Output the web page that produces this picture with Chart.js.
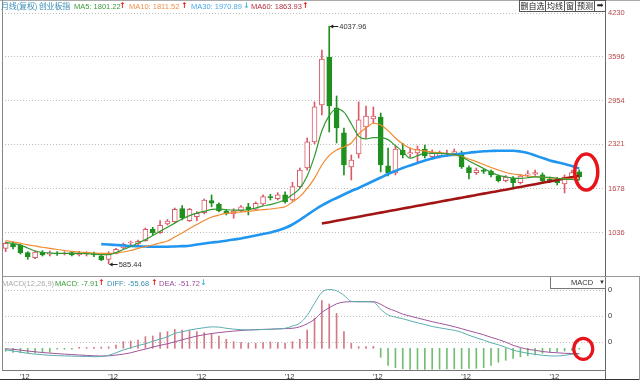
<!DOCTYPE html>
<html><head><meta charset="utf-8">
<script src="https://cdn.jsdelivr.net/npm/chart.js@4.4.0/dist/chart.umd.min.js"></script>
<style>
html,body{margin:0;padding:0;background:#fff;}
#wrap{position:relative;width:640px;height:380px;overflow:hidden;background:#fff;font-family:"Liberation Sans",Arial,sans-serif;}
canvas{position:absolute;left:0;}
#c1{top:0;}
#c2{top:277px;}
.t{position:absolute;font-size:7.5px;line-height:9px;white-space:nowrap;}
.cn{font-family:"Noto Sans CJK SC",sans-serif;}
.ar{font-family:"DejaVu Sans",sans-serif;font-weight:bold;font-size:8px;}
.btn{position:absolute;top:0;height:12px;border:1px solid #555;background:#fff;font-size:8px;line-height:10px;text-align:center;font-family:"Noto Sans CJK SC",sans-serif;color:#222;box-sizing:border-box;}
</style></head>
<body>
<div id="wrap">
<canvas id="c1" width="640" height="277"></canvas>
<canvas id="c2" width="640" height="103"></canvas>

<div class="t cn" style="left:1px;top:1px;color:#3b8db5;font-size:8px;line-height:10px;letter-spacing:-0.2px">月线(复权) 创业板指</div>
<div class="t" style="left:74px;top:2px;color:#3a9a3a">MA5: 1801.22</div>
<div class="t ar" style="left:119px;top:1px;color:#e02020">↑</div>
<div class="t" style="left:129px;top:2px;color:#f0904a">MA10: 1811.52</div>
<div class="t ar" style="left:181px;top:1px;color:#e02020">↑</div>
<div class="t" style="left:191px;top:2px;color:#4aa8e8">MA30: 1970.89</div>
<div class="t ar" style="left:243px;top:1px;color:#4ab8d8">↓</div>
<div class="t" style="left:251px;top:2px;color:#b03040">MA60: 1863.93</div>
<div class="t ar" style="left:302px;top:1px;color:#e02020">↑</div>

<div class="btn" style="left:519px;width:27px">删自选</div>
<div class="btn" style="left:545px;width:20px">均线</div>
<div class="btn" style="left:564px;width:12px">窗</div>
<div class="btn" style="left:575px;width:20px">预测</div>
<div class="btn" style="left:594px;width:12px;font-family:'DejaVu Sans'">➡</div>

<div class="t" style="left:2px;top:279px;color:#aaa">MACD(12,26,9)</div>
<div class="t" style="left:55px;top:279px;color:#3a9a3a">MACD: -7.91</div>
<div class="t ar" style="left:98px;top:278px;color:#e02020">↑</div>
<div class="t" style="left:107px;top:279px;color:#3a8fb0">DIFF: -55.68</div>
<div class="t ar" style="left:151px;top:278px;color:#e02020">↑</div>
<div class="t" style="left:159px;top:279px;color:#9c4a9c">DEA: -51.72</div>
<div class="t ar" style="left:200px;top:278px;color:#4ab8d8">↓</div>
<div style="position:absolute;left:550px;top:277px;width:56px;height:12px;border:1px solid #777;border-top:none;background:#fff;box-sizing:border-box;font-size:7.5px;line-height:11px;color:#333;">
  <span style="position:absolute;left:20px;top:0">MACD</span><span style="position:absolute;left:48px;top:0;font-size:6px">▼</span>
</div>
</div>

<script>
// ---------- data ----------
const open  = [809,872,857,745,672,751,722,741,726,745,716,726,730,697,649,736,813,886,872,920,1085,1036,1163,1196,1385,1211,1269,1327,1502,1449,1352,1308,1356,1414,1376,1454,1560,1531,1585,1512,1705,1977,2356,2894,3592,2851,2487,1992,2181,2574,2690,2719,2007,1905,2239,2181,2196,2254,2142,2152,2181,2181,2196,1982,1909,1948,1934,1861,1793,1832,1764,1876,1886,1876,1813,1793,1745,1846,1923];
const high  = [905,908,872,760,770,774,770,763,760,760,765,760,755,712,760,809,886,915,930,1104,1115,1211,1228,1395,1429,1391,1342,1526,1585,1472,1376,1385,1432,1464,1483,1585,1595,1618,1632,1769,1977,2414,2938,3694,4037.96,3025,2559,2167,2938,2879,2865,2777,2268,2298,2337,2268,2298,2312,2239,2225,2239,2254,2225,2007,1977,1970,1948,1876,1868,1854,1883,1938,1948,1905,1846,1842,1876,1948,1948];
const low   = [760,799,726,649,658,697,697,704,712,697,697,697,687,629,585.44,726,799,857,857,911,1003,1024,1148,1184,1221,1199,1206,1308,1414,1337,1294,1246,1337,1294,1359,1435,1512,1512,1464,1497,1686,1948,2327,2749,2501,2341,1876,1803,2123,2414,2632,1919,1861,1876,2123,2137,2069,2123,2116,2123,2145,2152,1970,1817,1883,1897,1846,1774,1774,1672,1745,1842,1868,1774,1767,1730,1614,1832,1803];
const close = [882,828,745,687,755,712,741,726,741,712,736,736,712,639,736,794,872,890,911,1085,1036,1144,1206,1376,1254,1376,1318,1512,1464,1356,1318,1352,1414,1366,1464,1560,1545,1585,1487,1705,1948,2356,2865,3563,2880,2559,2021,2094,2676,2734,2734,2021,1905,2254,2167,2200,2254,2152,2200,2196,2188,2215,1992,1909,1948,1929,1876,1793,1846,1764,1861,1890,1909,1793,1793,1764,1846,1909,1846];

const ma5  = [891,879,857,813,770,748,741,736,736,736,736,733,726,716,716,748,792,835,886,935,995,1055,1115,1175,1235,1285,1320,1345,1375,1380,1370,1365,1365,1370,1395,1425,1445,1475,1515,1590,1680,1860,2150,2520,2740,2835,2790,2620,2440,2400,2420,2420,2390,2300,2215,2120,2155,2195,2190,2190,2185,2175,2140,2080,2025,1970,1915,1870,1850,1830,1825,1835,1848,1845,1840,1828,1815,1810,1801.22];
const ma10 = [923,901,882,860,843,824,809,792,777,765,755,748,741,736,736,741,755,777,809,835,857,886,915,974,1032,1097,1155,1214,1264,1294,1318,1330,1337,1345,1359,1371,1381,1395,1414,1483,1560,1680,1830,2020,2160,2240,2283,2341,2472,2559,2628,2603,2520,2414,2327,2264,2239,2225,2210,2200,2188,2167,2145,2108,2069,2028,1985,1948,1912,1890,1876,1861,1851,1842,1832,1827,1821,1817,1811.52];
const ma30 = [null,null,null,null,null,null,null,null,null,null,null,null,null,870,864,857,850,842,838,835,832,832,832,835,840,845,864,879,893,905,920,937,952,974,995,1017,1039,1068,1104,1155,1221,1294,1366,1432,1490,1541,1592,1643,1686,1737,1788,1839,1890,1934,1977,2014,2050,2087,2116,2142,2159,2174,2185,2199,2210,2220,2225,2229,2229,2229,2217,2196,2159,2123,2087,2060,2035,2005,1970.89];
const ma60 = [null,null,null,null,null,null,null,null,null,null,null,null,null,null,null,null,null,null,null,null,null,null,null,null,null,null,null,null,null,null,null,null,null,null,null,null,null,null,null,null,null,null,null,1170,1189,1210,1229,1249,1268,1289,1309,1328,1348,1367,1387,1407,1427,1446,1466,1486,1506,1525,1545,1564,1584,1604,1623,1643,1662,1682,1702,1722,1742,1762,1782,1803,1823,1843,1863.93];

const macdHist = [-30,-40,-45,-48,-45,-42,-40,-8,-10,-8,10,8,10,12,15,33,67,73,83,117,123,157,167,190,183,177,167,157,150,123,90,67,57,50,50,57,63,57,50,67,90,183,300,477,443,350,167,50,17,17,20,-90,-170,-195,-205,-210,-210,-210,-210,-208,-205,-205,-205,-200,-200,-195,-170,-140,-120,-100,-85,-75,-65,-50,-42,-35,-28,-20,-7.91];
const diff = [-15,-27,-38,-50,-58,-64,-70,-73,-76,-78,-80,-82,-84,-83,-70,-45,-17,5,28,45,70,92,115,150,165,183,195,206,214,212,200,192,186,183,185,188,190,194,200,222,252,330,450,560,588,575,530,470,466,466,462,390,335,312,295,275,255,238,218,205,192,180,160,130,105,82,55,35,10,-18,-35,-50,-60,-70,-76,-77,-70,-60,-55.68];
const dea  = [-5,-10,-18,-27,-35,-42,-48,-53,-58,-63,-67,-71,-75,-77,-75,-68,-58,-45,-25,-8,12,30,45,65,85,105,122,136,148,157,165,172,178,183,186,189,191,194,197,200,215,245,290,360,405,445,462,466,466,466,466,440,400,372,342,322,303,285,266,250,234,216,196,175,156,135,110,88,62,30,8,-10,-20,-32,-40,-45,-50,-52,-51.72];

const priceTicks = [1036,1678,2321,2954,3596,4230];
const macdTicks = [63,323,583];
const macdTickText = '0';
const xTickIndex = [2,14,26,38,50,62,74];
const xTickText = "'12";
const emptySlots = 3;

// ---------- helpers ----------
const N = close.length;
const categories = [];
for (let i = 0; i < N + emptySlots; i++) categories.push('m' + i);
const UP = '#dc5a68', DOWN = '#1e901e';
const isUp = close.map((c,i)=> c >= open[i]);
const FONT = {family:'"Liberation Sans", Arial, sans-serif', size:7.5};

function fixY(w){ return a => { a.width = w; a.paddingTop = 0; a.paddingBottom = 0; }; }

function drawTag(ctx, px, py, txt){
  const y0 = Math.round(py) + 0.5;
  ctx.strokeStyle = '#222'; ctx.fillStyle = '#222'; ctx.lineWidth = 1;
  ctx.beginPath(); ctx.moveTo(px + 1, y0); ctx.lineTo(px + 9, y0); ctx.stroke();
  ctx.beginPath(); ctx.moveTo(px + 0.5, y0); ctx.lineTo(px + 4, y0 - 2); ctx.lineTo(px + 4, y0 + 2); ctx.closePath(); ctx.fill();
  ctx.font = '7.5px "Liberation Sans", Arial, sans-serif';
  ctx.textBaseline = 'middle'; ctx.textAlign = 'left';
  ctx.fillStyle = '#333';
  ctx.fillText(txt, px + 10, y0);
}

function line(ctx, x1, y1, x2, y2, c){
  ctx.strokeStyle = c; ctx.lineWidth = 1;
  ctx.beginPath(); ctx.moveTo(x1, y1); ctx.lineTo(x2, y2); ctx.stroke();
}

const mainDeco = {
  id:'mainDeco',
  afterDatasetsDraw(chart){
    const {ctx, scales:{x, y}} = chart;
    ctx.save();
    let hi = 0, lo = 0;
    high.forEach((v,i)=>{ if (v > high[hi]) hi = i; });
    low.forEach((v,i)=>{ if (v < low[lo]) lo = i; });
    drawTag(ctx, x.getPixelForValue(hi), y.getPixelForValue(high[hi]), high[hi].toFixed(2));
    drawTag(ctx, x.getPixelForValue(lo), y.getPixelForValue(low[lo]), low[lo].toFixed(2));
    const lx = x.getPixelForValue(N - 1), ly = y.getPixelForValue(close[N - 1]);
    ctx.strokeStyle = '#e8141c'; ctx.lineWidth = 3.5;
    ctx.beginPath(); ctx.ellipse(lx + 7, ly - 5, 11.5, 18, 0, 0, Math.PI * 2); ctx.stroke();
    ctx.restore();
  },
  afterDraw(chart){
    const {ctx, chartArea:a} = chart;
    ctx.save();
    line(ctx, 0, 0.5, 640, 0.5, '#aaa');
    line(ctx, 2.5, 0, 2.5, 277, '#888');
    line(ctx, Math.round(a.right) + 0.5, 0, Math.round(a.right) + 0.5, 277, '#666');
    line(ctx, 2, 276.5, 640, 276.5, '#999');
    ctx.restore();
  }
};

const macdDeco = {
  id:'macdDeco',
  afterDatasetsDraw(chart){
    const {ctx, scales:{x, y}} = chart;
    ctx.save();
    const lx = x.getPixelForValue(N - 1), ly = y.getPixelForValue(diff[N - 1]);
    ctx.strokeStyle = '#e8141c'; ctx.lineWidth = 3.2;
    ctx.beginPath(); ctx.ellipse(lx + 4, ly - 5, 9.5, 10.5, 0, 0, Math.PI * 2); ctx.stroke();
    ctx.restore();
  },
  afterDraw(chart){
    const {ctx, chartArea:a} = chart;
    ctx.save();
    line(ctx, 2.5, 0, 2.5, Math.round(a.bottom), '#888');
    line(ctx, Math.round(a.right) + 0.5, 0, Math.round(a.right) + 0.5, 103, '#666');
    line(ctx, 2, Math.round(a.bottom) + 0.5, Math.round(a.right) + 1, Math.round(a.bottom) + 0.5, '#777');
    line(ctx, 0, 102.5, 640, 102.5, '#333');
    line(ctx, 639.5, 0, 639.5, 103, '#999');
    ctx.restore();
  }
};

// ---------- main price chart ----------
new Chart(document.getElementById('c1'), {
  type:'bar',
  data:{
    labels:categories,
    datasets:[
      {type:'line', label:'MA5', data:ma5, borderColor:'#2f9a2f', borderWidth:1.2, pointRadius:0, cubicInterpolationMode:'monotone', order:1},
      {type:'line', label:'MA10', data:ma10, borderColor:'#f28a2e', borderWidth:1.2, pointRadius:0, cubicInterpolationMode:'monotone', order:1},
      {type:'line', label:'MA30', data:ma30, borderColor:'#2196f0', borderWidth:2.6, pointRadius:0, cubicInterpolationMode:'monotone', order:2},
      {type:'line', label:'MA60', data:ma60, borderColor:'#a31515', borderWidth:2.6, pointRadius:0, cubicInterpolationMode:'monotone', order:2},
      {label:'wick', data:low.map((l,i)=>[l, high[i]]), backgroundColor:isUp.map(u=>u?UP:DOWN), barThickness:1, grouped:false, order:6},
      {label:'body', data:open.map((o,i)=>[o, close[i]]), backgroundColor:isUp.map(u=>u?'#ffffff':DOWN), borderColor:isUp.map(u=>u?UP:DOWN), borderWidth:1, borderSkipped:false, barThickness:5, minBarLength:1, grouped:false, order:5}
    ]
  },
  options:{
    responsive:false, animation:false, events:[],
    layout:{padding:{left:2, right:0, top:2, bottom:1}},
    plugins:{legend:{display:false}, tooltip:{enabled:false}},
    scales:{
      x:{display:false, offset:true},
      y:{position:'right', min:406.1, max:4391.6,
         afterBuildTicks:a=>{ a.ticks = priceTicks.map(v=>({value:v})); },
         afterFit:fixY(35),
         ticks:{color:'#b84a4a', font:FONT, padding:3, callback:v=>String(v)},
         grid:{color:'#bdbdbd', drawTicks:false, lineWidth:1},
         border:{display:false, dash:[1,2]}}
    }
  },
  plugins:[mainDeco]
});

// ---------- MACD chart ----------
new Chart(document.getElementById('c2'), {
  type:'bar',
  data:{
    labels:categories,
    datasets:[
      {type:'line', label:'DIFF', data:diff, borderColor:'#5aaeb0', borderWidth:1, pointRadius:0, cubicInterpolationMode:'monotone', order:1},
      {type:'line', label:'DEA', data:dea, borderColor:'#a0559c', borderWidth:1, pointRadius:0, cubicInterpolationMode:'monotone', order:1},
      {label:'MACD', data:macdHist, backgroundColor:macdHist.map(v=>v>=0?'#d27a86':'#72bf72'), barThickness:1, order:3}
    ]
  },
  options:{
    responsive:false, animation:false, events:[],
    layout:{padding:{left:2, right:0, top:2, bottom:0}},
    plugins:{legend:{display:false}, tooltip:{enabled:false}},
    scales:{
      x:{offset:true,
         afterFit:a=>{ a.height = 10; a.paddingLeft = 0; a.paddingRight = 0; },
         grid:{display:false, drawTicks:false},
         border:{display:false},
         ticks:{autoSkip:false, maxRotation:0, minRotation:0, padding:2, labelOffset:4.5, color:'#333', font:FONT,
                callback:(v,i)=> xTickIndex.includes(i) ? xTickText : ''}},
      y:{position:'right', min:-217, max:693,
         afterBuildTicks:a=>{ a.ticks = macdTicks.map(v=>({value:v})); },
         afterFit:fixY(35),
         ticks:{color:'#333', font:FONT, padding:3, callback:()=>macdTickText},
         grid:{color:'#bdbdbd', drawTicks:false, lineWidth:1},
         border:{display:false, dash:[1,2]}}
    }
  },
  plugins:[macdDeco]
});
</script>
</body></html>
